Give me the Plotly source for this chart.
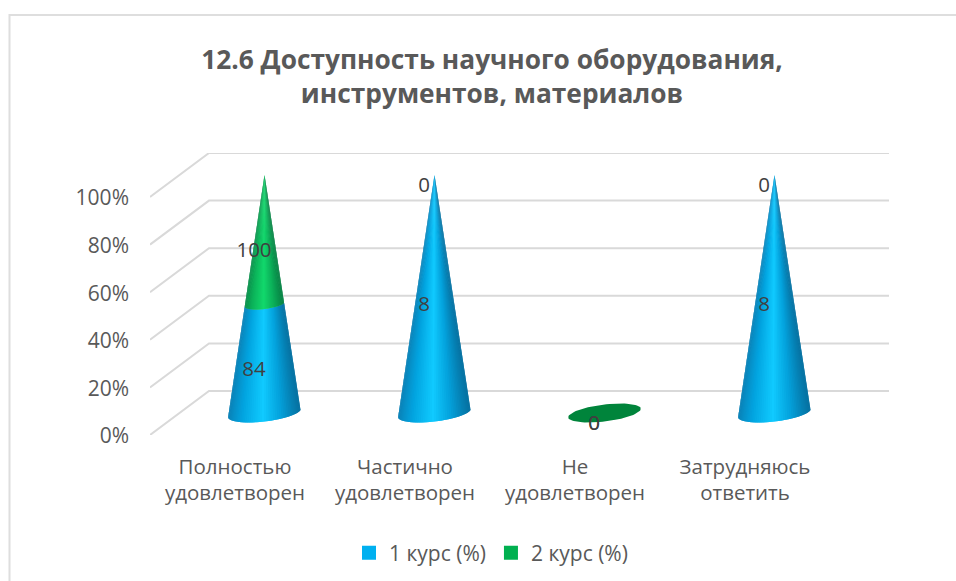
import math
import plotly.graph_objects as go

categories = ["Полностью<br>удовлетворен", "Частично<br>удовлетворен", "Не<br>удовлетворен", "Затрудняюсь<br>ответить"]
course_1 = [84, 8, 0, 8]
course_2 = [100, 0, 0, 0]
series_names = ["1 курс (%)", "2 курс (%)"]
pct_ticks = [0, 20, 40, 60, 80, 100]

# Scales of the oblique projection (axis units per pixel of the picture)
PX_X = 1 / 170.0   # category units per pixel
PX_Y = 100 / 238.0  # percent units per pixel
DEPTH_X, DEPTH_Y = 59 * PX_X, 44 * PX_Y
N_STRIPS = 50
GRID = "#d9d9d9"
TEXT = "#595959"
SHADE = {
    0: [(0.0, "#0a7fb4"), (0.25, "#02a4e0"), (0.55, "#10caff"), (0.78, "#04a2dc"), (1.0, "#0672a2")],
    1: [(0.0, "#078a48"), (0.25, "#0cb45a"), (0.55, "#12d86c"), (0.78, "#0cb25a"), (1.0, "#078244")],
}
FLAT_GREEN = "#00843b"


def hex_rgb(c):
    return tuple(int(c[i:i + 2], 16) for i in (1, 3, 5))


def shade(stops, f):
    for (a, ca), (b, cb) in zip(stops, stops[1:]):
        if f <= b:
            m = (f - a) / (b - a)
            ra, rb = hex_rgb(ca), hex_rgb(cb)
            return "rgb(%d,%d,%d)" % tuple(round(p + (q - p) * m) for p, q in zip(ra, rb))
    return stops[-1][1]


fig = go.Figure()

# Walls: gridlines running from the front edge to the back wall
for v in pct_ticks:
    fig.add_trace(go.Scatter(
        x=[0, DEPTH_X, 4 + DEPTH_X], y=[v, v + DEPTH_Y, v + DEPTH_Y], mode="lines",
        line=dict(color=GRID, width=2), hoverinfo="skip", showlegend=False))


def base_point(cx, t):
    """Point on the tilted base ellipse of a cone, in axis units."""
    dx = math.cos(t) * 36 + math.sin(t) * 5
    dy = math.cos(t) * 3 + math.sin(t) * 9
    return cx + dx * PX_X, DEPTH_Y / 2 + dy * PX_Y


label_x, label_y, label_text = [], [], []
for i, (a, b) in enumerate(zip(course_1, course_2)):
    cx = i + 0.5 + DEPTH_X / 2
    total = a + b
    if total == 0:
        pts = [base_point(cx, 2 * math.pi * k / 72) for k in range(73)]
        fig.add_trace(go.Scatter(
            x=[p[0] for p in pts], y=[p[1] for p in pts], mode="lines", fill="toself",
            fillcolor=FLAT_GREEN, line=dict(width=0),
            hoverinfo="skip", showlegend=False))
        bands = [(0, 0, course_1[i]), (0, 0, course_2[i])]
    else:
        bands = [(0, a / total * 100, a), (a / total * 100, 100, b)]
    apex = (cx, 100 + DEPTH_Y / 2)
    for s, (lo, hi, val) in enumerate(bands):
        if hi > lo:
            # each strip overlaps the next one, which paints over it: no seams
            for k in range(N_STRIPS):
                ts = [math.pi + math.pi * j / N_STRIPS for j in range(k, min(k + 3, N_STRIPS + 1))]
                rim = [base_point(cx, t) for t in ts]
                low = [(p[0] + (apex[0] - p[0]) * lo / 100, p[1] + (apex[1] - p[1]) * lo / 100) for p in rim]
                high = [(p[0] + (apex[0] - p[0]) * hi / 100, p[1] + (apex[1] - p[1]) * hi / 100) for p in rim]
                poly = low + high[::-1] + low[:1]
                xs = (math.cos(ts[0]) + math.cos(ts[1])) / 2
                c = shade(SHADE[s], (xs + 1) / 2)
                fig.add_trace(go.Scatter(
                    x=[q[0] for q in poly], y=[q[1] for q in poly], mode="lines",
                    fill="toself", fillcolor=c, line=dict(width=0),
                    hoverinfo="skip", showlegend=False))
        label_x.append(cx - 10.5 * PX_X)
        label_y.append((lo + hi) / 2 + DEPTH_Y / 2 - 12 * PX_Y)
        label_text.append(str(val))

fig.add_trace(go.Scatter(
    x=label_x, y=label_y, text=label_text, mode="text", textposition="middle center",
    textfont=dict(family="Open Sans", size=20.5, color="#404040"),
    hoverinfo="skip", showlegend=False, cliponaxis=False))

for name, color in zip(series_names, ["#00b0f0", "#00b050"]):
    fig.add_trace(go.Scatter(
        x=[None], y=[None], mode="markers", name=name,
        marker=dict(symbol="square", size=14, color=color)))

L, T, R, B = 150, 153, 889, 435
W, H = 956, 581
fig.update_layout(
    width=W, height=H, paper_bgcolor="white", plot_bgcolor="white",
    margin=dict(l=L, r=W - R, t=T, b=H - B, pad=0, autoexpand=False),
    font=dict(family="Open Sans", color=TEXT, size=20.5),
    title=dict(
        text="<b>12.6 Доступность научного оборудования,<br>инструментов, материалов</b>",
        x=492 / W, xanchor="center", xref="container", y=1 - 69 / H, yanchor="middle",
        font=dict(family="Open Sans", size=26.3, color=TEXT)),
    xaxis=dict(range=[0, 4 + DEPTH_X], tickvals=[0.5, 1.5, 2.5, 3.5], ticktext=categories,
               showgrid=False, zeroline=False, showline=False, ticks="", ticklabelstandoff=17,
               automargin=False,
               tickfont=dict(family="Open Sans", size=20.5, color=TEXT), fixedrange=True),
    yaxis=dict(range=[0, 100 + DEPTH_Y], tickvals=pct_ticks, ticktext=[f"{v}%" for v in pct_ticks],
               showgrid=False, zeroline=False, showline=False, ticks="", ticklabelstandoff=20,
               automargin=False, ticklabelshift=1,
               tickfont=dict(family="Open Sans", size=21, color=TEXT), fixedrange=True),
    legend=dict(orientation="h", x=(491 - L) / (R - L), xref="paper", xanchor="center",
                y=-(553 - B) / (B - T), yanchor="middle", font=dict(size=21, color=TEXT)),
    shapes=[dict(type="rect", xref="paper", yref="paper",
                 x0=(9.5 - L) / (R - L), x1=(W + 20 - L) / (R - L),
                 y0=(B - (H + 20)) / (B - T), y1=(B - 15) / (B - T),
                 line=dict(color="#dedede", width=2), fillcolor="rgba(0,0,0,0)", layer="below")],
)
fig.write_html("out.html", post_script="document.body.style.margin='0';",
               config=dict(displayModeBar=False))
